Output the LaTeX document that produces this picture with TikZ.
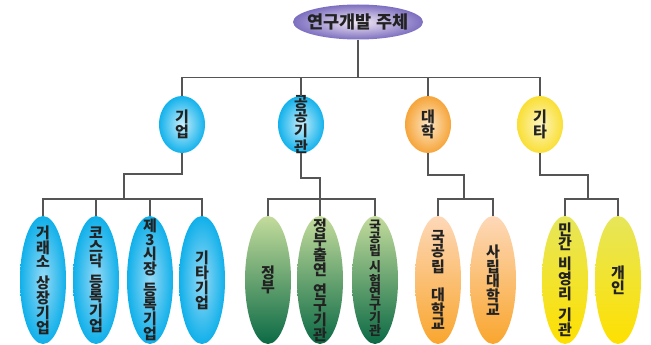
\documentclass[tikz,border=0pt]{standalone}
\usepackage{fontspec}
\newfontfamily\kr{Noto Sans CJK KR}
\usetikzlibrary{shapes.geometric}
\definecolor{linegray}{HTML}{555555}
\definecolor{textdark}{HTML}{222222}
\tikzset{
  conn/.style={draw=linegray, line width=1.1pt},
  lbl/.style={align=center, inner sep=0pt, text=textdark, font=\kr\bfseries\fontsize{15}{14}\selectfont},
  toplbl/.style={inner sep=0pt, text=textdark, font=\kr\bfseries\fontsize{17.5}{17}\selectfont},
  topbox/.style={ellipse, minimum width=130pt, minimum height=35pt, inner sep=0pt, shading=radial, inner color=white!92!violet, outer color={rgb,255:red,125;green,111;blue,192}},
  midbox/.style={ellipse, minimum width=46pt, minimum height=57pt, inner sep=0pt},
  leafbox/.style={ellipse, minimum width=46pt, minimum height=128pt, inner sep=0pt},
  midblue/.style={shading=radial, inner color={rgb,255:red,200;green,238;blue,251}, outer color={rgb,255:red,19;green,178;blue,236}},
  midorange/.style={shading=radial, inner color={rgb,255:red,253;green,231;blue,199}, outer color={rgb,255:red,246;green,165;blue,58}},
  midyellow/.style={shading=radial, inner color={rgb,255:red,253;green,246;blue,194}, outer color={rgb,255:red,249;green,223;blue,53}},
  leafblue/.style={shading=radial, inner color={rgb,255:red,150;green,218;blue,246}, outer color={rgb,255:red,16;green,176;blue,234}},
  leafgreen/.style={top color={rgb,255:red,196;green,220;blue,156}, middle color={rgb,255:red,110;green,160;blue,115}, bottom color={rgb,255:red,11;green,106;blue,69}},
  leaforange/.style={top color={rgb,255:red,253;green,216;blue,184}, bottom color={rgb,255:red,249;green,166;blue,46}},
  leafyellow/.style={top color={rgb,255:red,230;green,230;blue,90}, bottom color={rgb,255:red,254;green,224;blue,0}},
}
\begin{document}
\begin{tikzpicture}[x=1pt,y=-1pt]
\useasboundingbox (0,0) rectangle (651,345);
% top
\node[topbox] (top) at (358,22) {};
\node[toplbl] (ttop) at (top.center) {연구개발 주체};
% level 2
\node[midbox,midblue] (m1) at (182,124.5) {};
\node[midbox,midblue] (m2) at (301,124.5) {};
\node[midbox,midorange] (m3) at (428,124.5) {};
\node[midbox,midyellow] (m4) at (540,124.5) {};
\node[lbl] (tm1) at (m1.center) {기\\업};
\node[lbl] (tm2) at (m2.center) {공\\공\\기\\관};
\node[lbl] (tm3) at (m3.center) {대\\학};
\node[lbl] (tm4) at (m4.center) {기\\타};
% leaves
\node[leafbox,leafblue] (a1) at (43,280) {};
\node[leafbox,leafblue] (a2) at (96,280) {};
\node[leafbox,leafblue] (a3) at (150,280) {};
\node[leafbox,leafblue] (a4) at (202,280) {};
\node[leafbox,leafgreen] (b1) at (268,280) {};
\node[leafbox,leafgreen] (b2) at (320,280) {};
\node[leafbox,leafgreen] (b3) at (375,280) {};
\node[leafbox,leaforange] (c1) at (438,280) {};
\node[leafbox,leaforange] (c2) at (493,280) {};
\node[leafbox,leafyellow] (d1) at (565,280) {};
\node[leafbox,leafyellow] (d2) at (618,280) {};
\node[lbl] (ta1) at (a1.center) {거\\래\\소\\[7pt]상\\장\\기\\업};
\node[lbl] (ta2) at (a2.center) {코\\스\\닥\\[7pt]등\\록\\기\\업};
\node[lbl] (ta3) at (a3.center) {제\\3\\시\\장\\[7pt]등\\록\\기\\업};
\node[lbl] (ta4) at (a4.center) {기\\타\\기\\업};
\node[lbl] (tb1) at (b1.center) {정\\부};
\node[lbl] (tb2) at (b2.center) {정\\부\\출\\연\\[7pt]연\\구\\기\\관};
\node[lbl,font=\kr\bfseries\fontsize{13}{12.2}\selectfont] (tb3) at ([yshift=2pt]b3.center) {국\\공\\립\\[4pt]시\\험\\연\\구\\기\\관};
\node[lbl] (tc1) at (c1.center) {국\\공\\립\\[14pt]대\\학\\교};
\node[lbl] (tc2) at (c2.center) {사\\립\\대\\학\\교};
\node[lbl] (td1) at (d1.center) {민\\간\\[6pt]비\\영\\리\\[6pt]기\\관};
\node[lbl] (td2) at (d2.center) {개\\인};
% connectors level 1
\coordinate (bus0) at (0,77.5);
\draw[conn] (top.south) -- (top.south |- bus0);
\draw[conn] (m1.north) |- (m4.north |- bus0) -- (m4.north);
\draw[conn] (m2.north) -- (m2.north |- bus0);
\draw[conn] (m3.north) -- (m3.north |- bus0);
% groups
\coordinate (ka) at (124,174);
\coordinate (kb) at (320,178);
\coordinate (kc) at (464,175);
\coordinate (kd) at (588,175);
\coordinate (bus2) at (0,199);
\draw[conn] (m1.south) |- (ka) -- (ka |- bus2);
\draw[conn] (a1.north) |- (a4.north |- bus2) -- (a4.north);
\draw[conn] (a2.north) -- (a2.north |- bus2);
\draw[conn] (a3.north) -- (a3.north |- bus2);
\draw[conn] (m2.south) |- (kb) -- (kb |- bus2);
\draw[conn] (b1.north) |- (b3.north |- bus2) -- (b3.north);
\draw[conn] (b2.north) -- (b2.north |- bus2);
\draw[conn] (m3.south) |- (kc) -- (kc |- bus2);
\draw[conn] (c1.north) |- (c2.north |- bus2) -- (c2.north);
\draw[conn] (m4.south) |- (kd) -- (kd |- bus2);
\draw[conn] (d1.north) |- (d2.north |- bus2) -- (d2.north);
\end{tikzpicture}
\end{document}
